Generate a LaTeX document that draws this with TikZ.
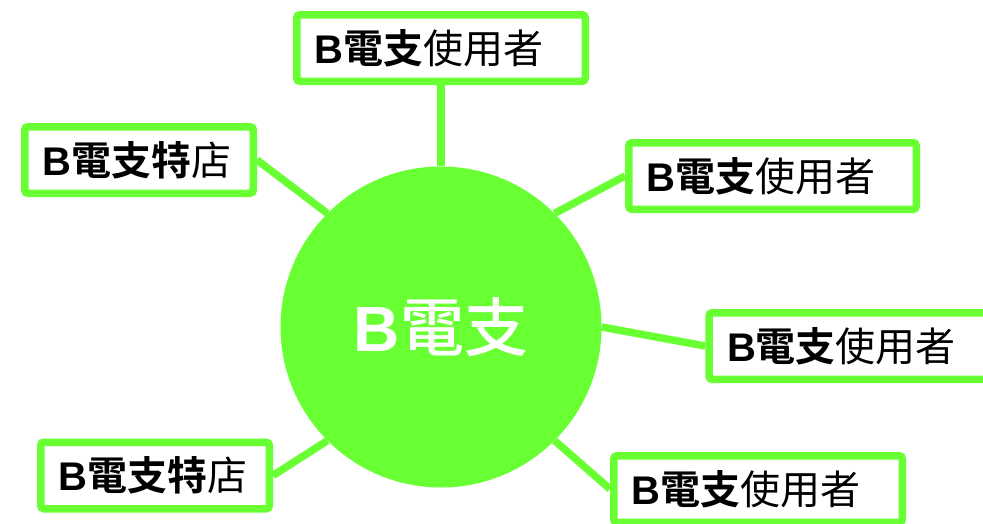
\documentclass[tikz,border=0pt]{standalone}
\usepackage{fontspec}
\setmainfont{Liberation Sans}
\newfontfamily\cjk[BoldFont={* Bold}]{Noto Sans CJK TC}
\newfontfamily\cjkmed{Noto Sans CJK TC Medium}
\definecolor{leafgreen}{RGB}{104, 255, 51}
\usetikzlibrary{positioning}

\newcommand{\leaftext}[2]{\textbf{B{\cjk 電支#1}}{\cjk #2}}

\begin{document}
\begin{tikzpicture}[x=1pt, y=-1pt,
    hub/.style={circle, fill=leafgreen, minimum size=321pt, inner sep=0pt, text=white, font=\fontsize{64}{70}\selectfont},
    leaf/.style={draw=leafgreen, fill=white, line width=7.5pt, rounded corners=3pt, minimum height=66.5pt, inner xsep=18pt, align=left, font=\fontsize{40}{44}\selectfont},
    link/.style={draw=leafgreen, line width=7.5pt}]
  \useasboundingbox (0,0) rectangle (983,523);

  \node[hub] (hub) at (441,327) {\textbf{B}{\cjkmed 電支}};

  % the six branches
  \node[leaf, text width=252.5pt] (top) at (441,48) {\leaftext{}{使用者}};
  \node[leaf, text width=192.5pt] (storeA) at (139,160) {\leaftext{特}{店}};
  \node[leaf, text width=251.5pt] (userA) at (772.5,176) {\leaftext{}{使用者}};
  \node[leaf, text width=252pt] (userB) at (853,346) {\leaftext{}{使用者}};
  \node[leaf, text width=192.5pt] (storeB) at (155,475.5) {\leaftext{特}{店}};
  \node[leaf, text width=252.5pt] (userC) at (758,489) {\leaftext{}{使用者}};

  \draw[link] (hub.90) -- (top.south);
  \draw[link] (hub.135) -- (storeA.east);
  \draw[link] (hub.45) -- (userA.west);
  \draw[link] (hub.0) -- (userB.west);
  \draw[link] (hub.-135) -- (storeB.east);
  \draw[link] (hub.-45) -- (userC.west);
\end{tikzpicture}
\end{document}
